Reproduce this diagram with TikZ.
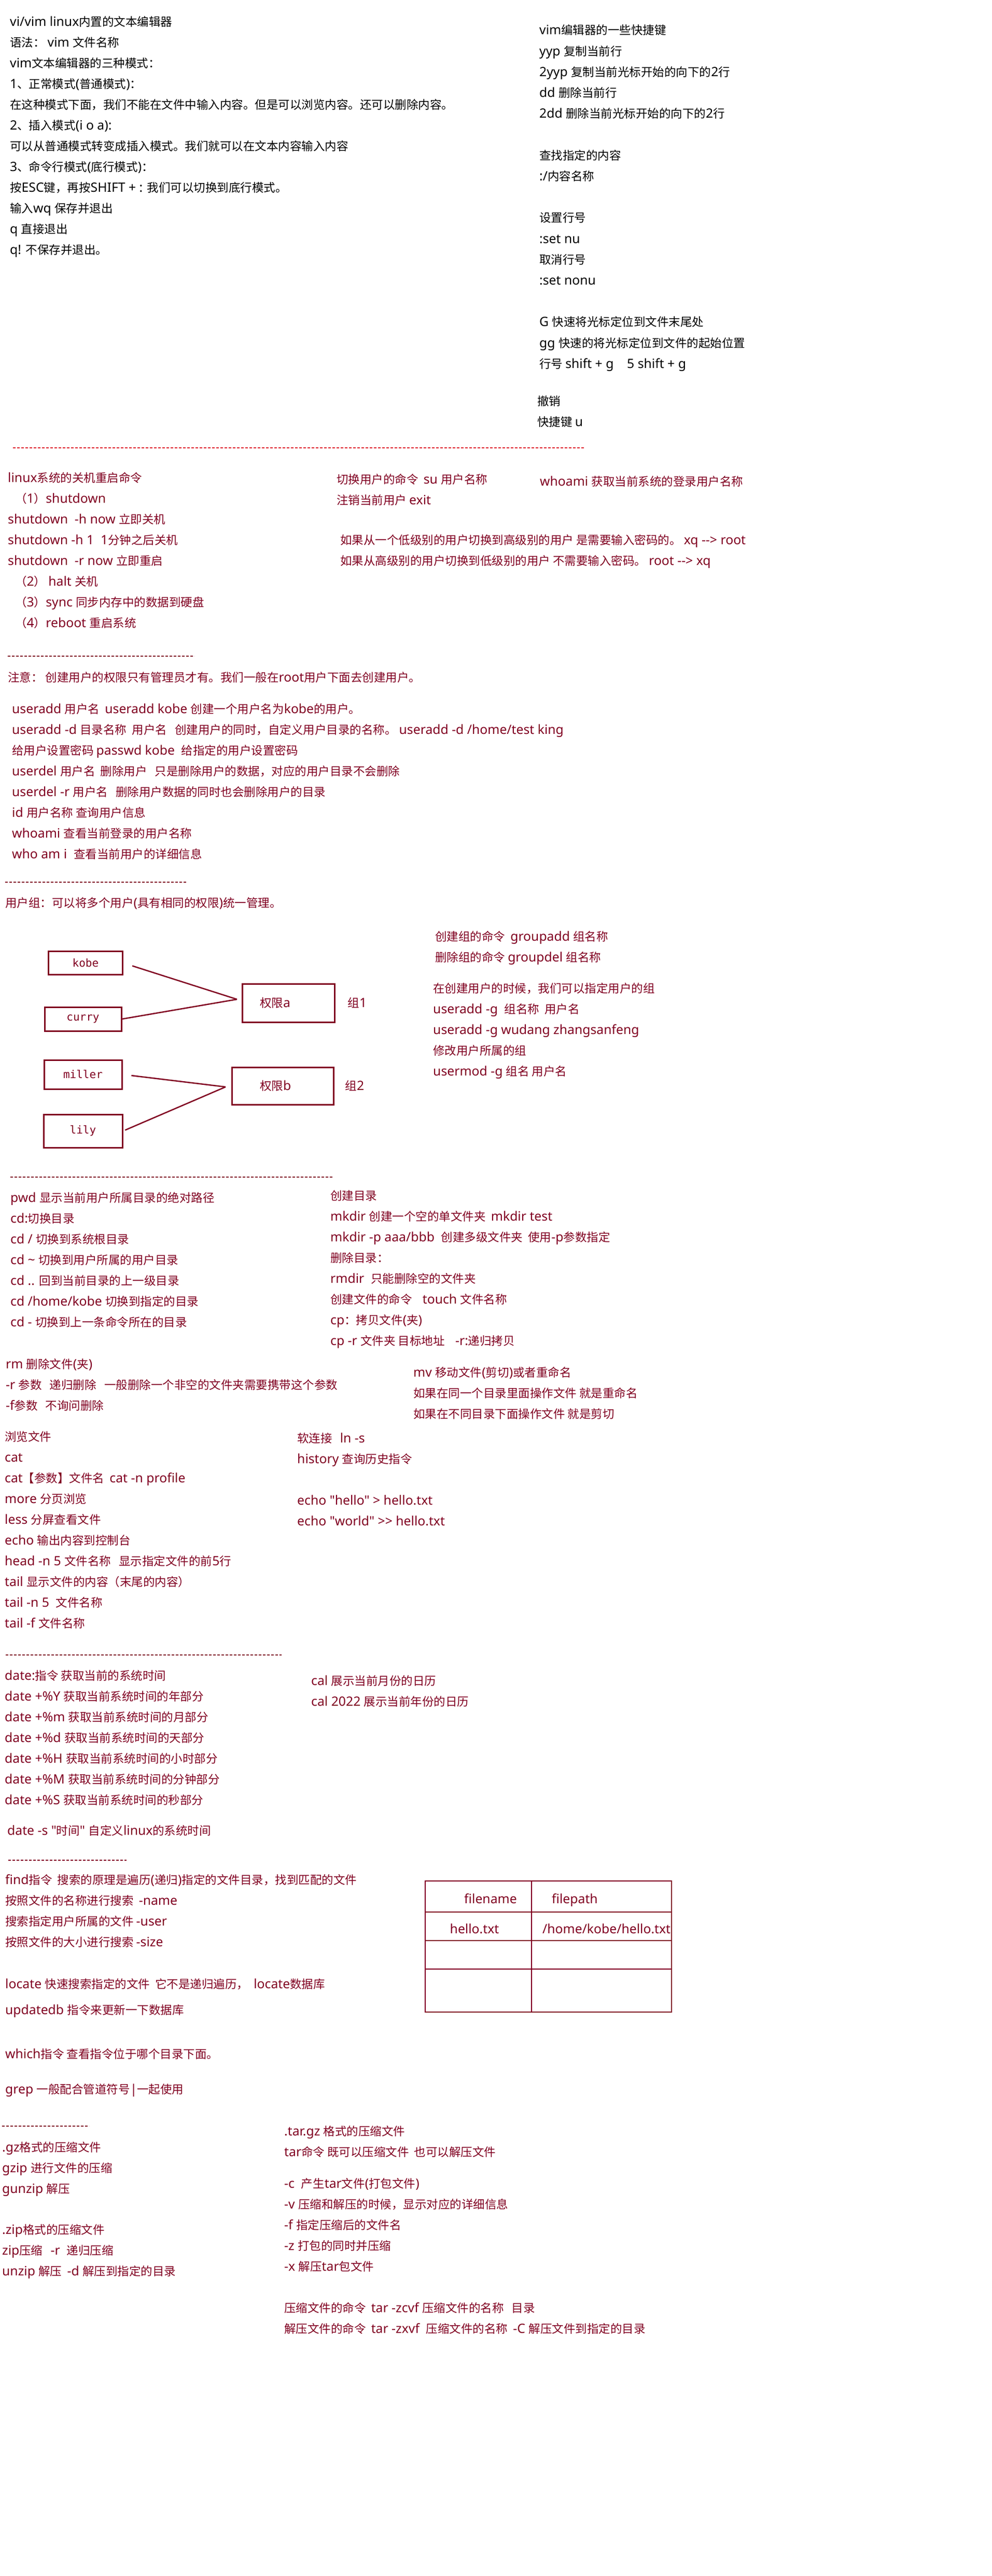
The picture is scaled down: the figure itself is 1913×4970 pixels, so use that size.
\documentclass[tikz,border=0pt]{standalone}
\usepackage{fontspec}
\setmainfont{Noto Sans}[Scale=1.1, Ligatures=TeXOff]
\newfontfamily\cjkfont{Noto Sans CJK SC}
\newfontfamily\boxfont{DejaVu Sans Mono}
\newcommand\boxtext{\XeTeXinterchartokenstate=0\relax\boxfont}
\usepackage{xcolor}
\usetikzlibrary{positioning}
\definecolor{notered}{RGB}{128,0,32}
\definecolor{rulered}{RGB}{222,36,46}
% Chinese runs in the CJK face, the rest in the Latin face
\newcount\cjkc
\cjkc="3000 \loop \XeTeXcharclass\cjkc=1 \ifnum\cjkc<"303F \advance\cjkc 1 \repeat
\cjkc="4E00 \loop \XeTeXcharclass\cjkc=1 \ifnum\cjkc<"9FFF \advance\cjkc 1 \repeat
\cjkc="FF00 \loop \XeTeXcharclass\cjkc=1 \ifnum\cjkc<"FF60 \advance\cjkc 1 \repeat
\XeTeXinterchartokenstate=1
\XeTeXinterchartoks 0 1 = {\cjkfont}
\XeTeXinterchartoks 4095 1 = {\cjkfont}
\XeTeXinterchartoks 1 0 = {\rmfamily}
\XeTeXinterchartoks 4095 0 = {\rmfamily}

\begin{document}
\begin{tikzpicture}[x=1pt, y=-1pt,
    txt/.style={anchor=base west, yshift=-8.5pt, inner sep=0pt, text=notered, font=\fontsize{22.5}{27}\selectfont},
    grp/.style={inner sep=0pt, text=notered, font=\fontsize{22.5}{27}\selectfont},
    sepline/.style={notered, line width=2pt, dash pattern=on 5pt off 3pt},
    userbox/.style={draw=notered, line width=3pt, inner sep=0pt, text=notered, font=\boxtext\fontsize{21}{25}\selectfont},
    permbox/.style={draw=notered, line width=3pt, inner ysep=0pt, align=left, text=notered, font=\fontsize{22.5}{27}\selectfont},
    link/.style={notered, line width=2.5pt},
    tbl/.style={notered, line width=2.5pt}]
    \fill[white] (0,0) rectangle (1913,4970);
    \useasboundingbox (0,0) rectangle (1913,4970);

    % vim basics
    \foreach \t [count=\i] in {{vi/vim linux内置的文本编辑器}, {语法：\ vim 文件名称}, {vim文本编辑器的三种模式：},
        {1、正常模式(普通模式)：}, {在这种模式下面，我们不能在文件中输入内容。但是可以浏览内容。还可以删除内容。},
        {2、插入模式(i o a):}, {可以从普通模式转变成插入模式。我们就可以在文本内容输入内容},
        {3、命令行模式(底行模式)：}, {按ESC键，再按SHIFT + : 我们可以切换到底行模式。},
        {输入wq 保存并退出}, {q 直接退出}, {q! 不保存并退出。}}
        \node[txt, text=black] (vim\i) at (19,{42+40*(\i-1)}) {\t};

    % vim shortcuts
    \foreach \y/\t [count=\i] in {58/{vim编辑器的一些快捷键}, 99/{yyp 复制当前行}, 139/{2yyp 复制当前光标开始的向下的2行},
        179/{dd 删除当前行}, 219/{2dd 删除当前光标开始的向下的2行}, 300/{查找指定的内容}, 340/{:/内容名称},
        420/{设置行号}, 461/{:set nu}, 501/{取消行号}, 541/{:set nonu}, 621/{G 快速将光标定位到文件末尾处},
        662/{gg 快速的将光标定位到文件的起始位置}, 702/{行号 shift + g\ \ \ \ 5 shift + g}}
        \node[txt, text=black] (key\i) at (1040,\y) {\t};
    \node[txt, text=black] (undo) at (1036,774) {撤销};
    \node[txt, text=black] (undokey) at (1036,814) {快捷键 u};

    \draw[sepline, rulered] (25,864) -- (1128,864);

    % shutdown and su
    \node[txt] (boot) at (15,922) {linux系统的关机重启命令};
    \node[txt] (boot1) at (29,962) {（1）shutdown};
    \node[txt] (boot2) at (15,1002) {shutdown\ \ -h now 立即关机};
    \node[txt] (boot3) at (15,1042) {shutdown -h 1\ \ 1分钟之后关机};
    \node[txt] (boot4) at (15,1082) {shutdown\ \ -r now 立即重启};
    \node[txt] (boot5) at (29,1122) {（2）\ halt\ 关机};
    \node[txt] (boot6) at (29,1162) {（3）sync 同步内存中的数据到硬盘};
    \node[txt] (boot7) at (29,1202) {（4）reboot 重启系统};
    \node[txt] (su) at (649,925) {切换用户的命令\ \ su 用户名称};
    \node[txt] (exit) at (649,965) {注销当前用户 exit};
    \node[txt] (whoami) at (1041,929) {whoami 获取当前系统的登录用户名称};
    \node[txt] (up) at (656,1042) {如果从一个低级别的用户切换到高级别的用户 是需要输入密码的。\ xq --> root};
    \node[txt] (down) at (656,1082) {如果从高级别的用户切换到低级别的用户 不需要输入密码。\ root\ --> xq};

    \draw[sepline] (15,1266) -- (375,1266);

    % user commands
    \node[txt] (note) at (15,1307) {注意：\ 创建用户的权限只有管理员才有。我们一般在root用户下面去创建用户。};
    \foreach \t [count=\i] in {{useradd 用户名\ \ useradd kobe 创建一个用户名为kobe的用户。},
        {useradd -d 目录名称\ \ 用户名\ \ \ 创建用户的同时，自定义用户目录的名称。\ useradd -d /home/test king},
        {给用户设置密码 passwd kobe\ \ 给指定的用户设置密码},
        {userdel 用户名\ \ 删除用户\ \ \ 只是删除用户的数据，对应的用户目录不会删除},
        {userdel -r 用户名\ \ \ 删除用户数据的同时也会删除用户的目录}, {id 用户名称 查询用户信息},
        {whoami 查看当前登录的用户名称}, {who am i\ \ 查看当前用户的详细信息}}
        \node[txt] (user\i) at (23,{1368+40*(\i-1)}) {\t};

    \draw[sepline] (10,1702) -- (360,1702);

    % user groups
    \node[txt] (group) at (10,1742) {用户组：可以将多个用户(具有相同的权限)统一管理。};
    \node[userbox, minimum width=143pt, minimum height=45pt] (kobe) at (165,1858) {kobe};
    \node[userbox, minimum width=148pt, minimum height=46pt] (curry) at (160,1966) {curry};
    \node[userbox, minimum width=150pt, minimum height=56pt] (miller) at (160,2073) {miller};
    \node[userbox, minimum width=152pt, minimum height=64pt] (lily) at (160,2182) {lily};
    \node[permbox, text width=110pt, inner xsep=34pt, minimum height=74pt] (perma) at (556,1935) {权限a};
    \node[permbox, text width=88pt, inner xsep=54pt, minimum height=72pt] (permb) at (545,2095) {权限b};
    \node[grp, right=24pt of perma] (g1) {组1};
    \node[grp, right=21pt of permb] (g2) {组2};
    \coordinate (joina) at (457,1928);
    \coordinate (joinb) at (435,2097);
    \draw[link, shorten <=18pt] (kobe.east) -- (joina);
    \draw[link] (curry.east) -- (joina);
    \draw[link, shorten <=17pt] (miller.east) -- (joinb);
    \draw[link, shorten <=4pt] (lily.east) -- (joinb);

    \foreach \y/\x/\t [count=\i] in {1807/839/{创建组的命令\ \ groupadd 组名称}, 1847/839/{删除组的命令 groupdel 组名称},
        1907/835/{在创建用户的时候，我们可以指定用户的组}, 1947/835/{useradd -g\ \ 组名称\ \ 用户名},
        1987/835/{useradd -g wudang zhangsanfeng}, 2027/835/{修改用户所属的组}, 2067/835/{usermod -g 组名 用户名}}
        \node[txt] (gcmd\i) at (\x,\y) {\t};

    \draw[sepline] (20,2271) -- (642,2271);

    % directories
    \foreach \t [count=\i] in {{pwd 显示当前用户所属目录的绝对路径}, {cd:切换目录}, {cd / 切换到系统根目录},
        {cd \textasciitilde{} 切换到用户所属的用户目录}, {cd .. 回到当前目录的上一级目录},
        {cd /home/kobe 切换到指定的目录}, {cd - 切换到上一条命令所在的目录}}
        \node[txt] (cd\i) at (20,{2311+40*(\i-1)}) {\t};
    \foreach \t [count=\i] in {{创建目录}, {mkdir 创建一个空的单文件夹\ \ mkdir test},
        {mkdir -p aaa/bbb\ \ 创建多级文件夹\ \ 使用-p参数指定}, {删除目录：}, {rmdir\ \ 只能删除空的文件夹},
        {创建文件的命令\ \ \ \ touch 文件名称}, {cp：拷贝文件(夹)}, {cp -r 文件夹 目标地址\ \ \ \ -r:递归拷贝}}
        \node[txt] (mk\i) at (637,{2307+40*(\i-1)}) {\t};
    \node[txt] (rm1) at (11,2632) {rm 删除文件(夹)};
    \node[txt] (rm2) at (11,2672) {-r 参数\ \ \ 递归删除\ \ \ 一般删除一个非空的文件夹需要携带这个参数};
    \node[txt] (rm3) at (11,2712) {-f参数\ \ \ 不询问删除};
    \node[txt] (mv1) at (797,2648) {mv 移动文件(剪切)或者重命名};
    \node[txt] (mv2) at (797,2688) {如果在同一个目录里面操作文件 就是重命名};
    \node[txt] (mv3) at (797,2728) {如果在不同目录下面操作文件 就是剪切};

    % viewing files
    \foreach \t [count=\i] in {{浏览文件}, {cat}, {cat【参数】文件名\ \ cat -n profile}, {more 分页浏览},
        {less 分屏查看文件}, {echo 输出内容到控制台}, {head -n 5 文件名称\ \ \ 显示指定文件的前5行},
        {tail 显示文件的内容（末尾的内容）}, {tail -n 5\ \ 文件名称}, {tail -f 文件名称}}
        \node[txt] (view\i) at (9,{2772+40*(\i-1)}) {\t};
    \node[txt] (ln) at (573,2775) {软连接\ \ \ ln -s};
    \node[txt] (hist) at (573,2815) {history 查询历史指令};
    \node[txt] (echo1) at (573,2895) {echo "hello" > hello.txt};
    \node[txt] (echo2) at (573,2935) {echo "world" >> hello.txt};

    \draw[sepline] (11,3193) -- (543,3193);

    % date and cal
    \foreach \t [count=\i] in {{date:指令 获取当前的系统时间}, {date +\%Y 获取当前系统时间的年部分},
        {date +\%m 获取当前系统时间的月部分}, {date +\%d 获取当前系统时间的天部分},
        {date +\%H 获取当前系统时间的小时部分}, {date +\%M 获取当前系统时间的分钟部分},
        {date +\%S 获取当前系统时间的秒部分}}
        \node[txt] (date\i) at (9,{3233+40*(\i-1)}) {\t};
    \node[txt] (dateset) at (14,3532) {date -s "时间" 自定义linux的系统时间};
    \node[txt] (cal1) at (600,3243) {cal 展示当前月份的日历};
    \node[txt] (cal2) at (600,3283) {cal 2022 展示当前年份的日历};

    \draw[sepline] (16,3589) -- (244,3589);

    % find, locate, which, grep
    \foreach \t [count=\i] in {{find指令\ \ 搜索的原理是遍历(递归)指定的文件目录，找到匹配的文件},
        {按照文件的名称进行搜索\ \ -name}, {搜索指定用户所属的文件 -user}, {按照文件的大小进行搜索 -size}}
        \node[txt] (find\i) at (10,{3627+40*(\i-1)}) {\t};
    \node[txt] (locate) at (10,3828) {locate 快速搜索指定的文件\ \ 它不是递归遍历，\ \ locate数据库};
    \node[txt] (updb) at (10,3878) {updatedb 指令来更新一下数据库};
    \node[txt] (which) at (10,3963) {which指令 查看指令位于哪个目录下面。};
    \node[txt] (grep) at (10,4031) {grep 一般配合管道符号|一起使用};

    % locate table
    \draw[tbl] (820,3629) rectangle (1295,3882);
    \draw[tbl] (1025,3629) -- (1025,3882);
    \foreach \r in {3689,3744,3799}
        \draw[tbl] (820,\r) -- (1295,\r);
    \node[txt, anchor=base] (fname) at (946,3664) {filename};
    \node[txt] (fpath) at (1064,3664) {filepath};
    \node[txt, anchor=base] (hname) at (915,3722) {hello.txt};
    \node[txt] (hpath) at (1046,3722) {/home/kobe/hello.txt};

    \draw[sepline] (4,4102) -- (172,4102);

    % compression
    \foreach \y/\t [count=\i] in {4143/{.gz格式的压缩文件}, 4183/{gzip 进行文件的压缩}, 4223/{gunzip 解压},
        4302/{.zip格式的压缩文件}, 4342/{zip压缩\ \ \ -r\ \ 递归压缩}, 4382/{unzip 解压\ \ -d 解压到指定的目录}}
        \node[txt] (zip\i) at (4,\y) {\t};
    \foreach \y/\t [count=\i] in {4112/{.tar.gz 格式的压缩文件}, 4152/{tar命令 既可以压缩文件\ \ 也可以解压文件},
        4213/{-c\ \ 产生tar文件(打包文件)}, 4253/{-v 压缩和解压的时候，显示对应的详细信息},
        4293/{-f 指定压缩后的文件名}, 4333/{-z 打包的同时并压缩}, 4373/{-x 解压tar包文件},
        4453/{压缩文件的命令\ \ tar -zcvf 压缩文件的名称\ \ \ 目录},
        4493/{解压文件的命令\ \ tar -zxvf\ \ 压缩文件的名称\ \ -C 解压文件到指定的目录}}
        \node[txt] (tar\i) at (548,\y) {\t};
\end{tikzpicture}
\end{document}
